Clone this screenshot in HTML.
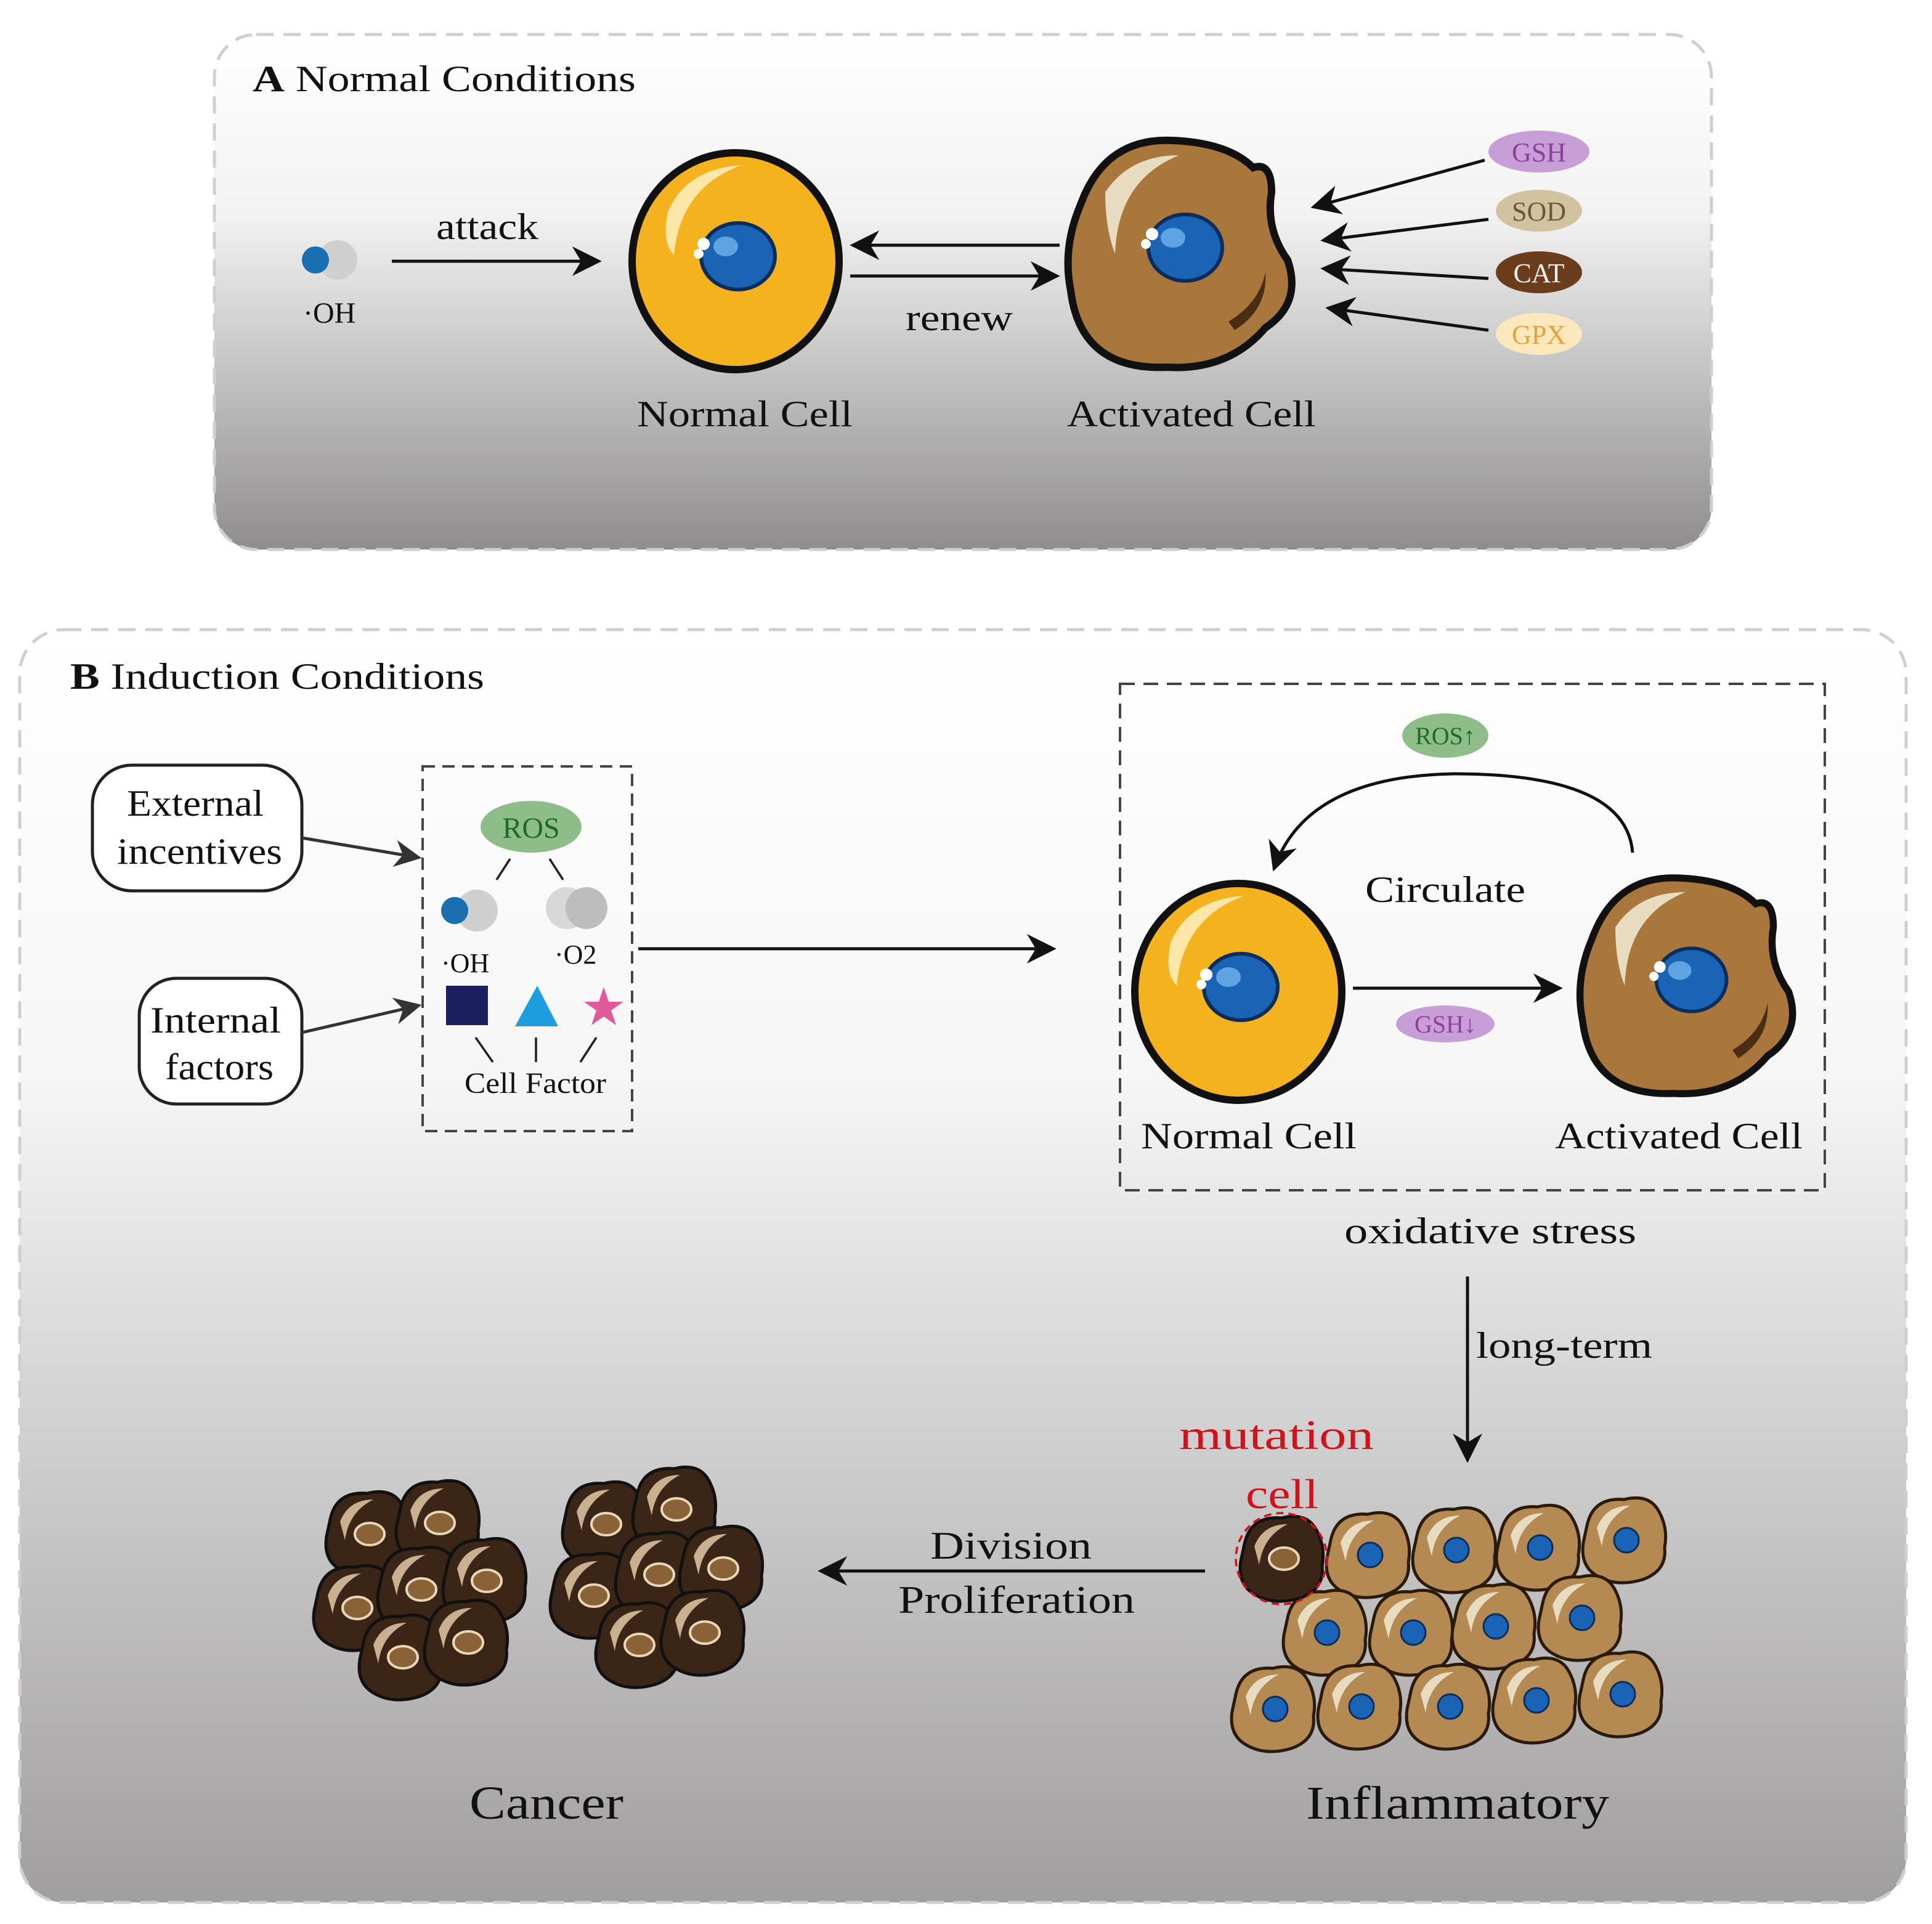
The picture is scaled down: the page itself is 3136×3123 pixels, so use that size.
<!DOCTYPE html>
<html><head><meta charset="utf-8">
<style>
html,body{margin:0;padding:0;background:#fff;}
svg{display:block;}
text{font-family:"Liberation Serif",serif;fill:#111;}
</style></head>
<body>
<svg width="3136" height="3123" viewBox="0 0 1568 1561.5" xmlns="http://www.w3.org/2000/svg">
<defs>
<linearGradient id="gA" x1="0" y1="0" x2="0" y2="1">
<stop offset="0" stop-color="#ffffff"/><stop offset="0.35" stop-color="#f2f2f2"/><stop offset="1" stop-color="#8f8d8e"/>
</linearGradient>
<linearGradient id="gB" x1="0" y1="0" x2="0" y2="1">
<stop offset="0" stop-color="#ffffff"/><stop offset="0.35" stop-color="#f6f6f6"/><stop offset="1" stop-color="#a09e9f"/>
</linearGradient>
<marker id="ar2" viewBox="0 0 10 10" refX="9" refY="5" markerWidth="24" markerHeight="24" orient="auto" markerUnits="userSpaceOnUse">
<path d="M0,0 L10,5 L0,10 L3,5 z" fill="#111"/>
</marker>
<marker id="ar3" viewBox="0 0 10 10" refX="9" refY="5" markerWidth="22" markerHeight="22" orient="auto" markerUnits="userSpaceOnUse">
<path d="M0,0 L10,5 L0,10 L3,5 z" fill="#333"/>
</marker>
<g id="ncell">
<ellipse cx="0" cy="0" rx="84" ry="88" fill="#f5b21f" stroke="#111" stroke-width="6"/>
<path d="M-55,-40 Q-40,-75 5,-78 Q-45,-60 -50,-5 Q-60,-15 -55,-40z" fill="#fde7a8"/>
<ellipse cx="2" cy="-4" rx="30" ry="27" fill="#1b63b4" stroke="#0b2d5c" stroke-width="3"/>
<ellipse cx="-8" cy="-12" rx="10" ry="8" fill="#5fa3e3"/>
<circle cx="-26" cy="-14" r="5" fill="#fff"/><circle cx="-30" cy="-6" r="4" fill="#fff"/>
</g>
<g id="acell">
<path d="M-80,-40 Q-60,-95 -5,-92 Q40,-90 60,-70 Q75,-75 75,-50 Q70,-20 88,5 Q100,40 70,60 Q40,95 -10,92 Q-80,95 -88,30 Q-95,-5 -80,-40z" fill="#a9763c" stroke="#111" stroke-width="6"/>
<path d="M-60,-50 Q-40,-80 0,-80 Q-50,-60 -52,0 Q-60,-20 -60,-50z" fill="#e8dcc0"/>
<path d="M40,55 Q65,40 70,15 Q72,45 45,62z" fill="#4a2e14"/>
<ellipse cx="5" cy="-5" rx="30" ry="27" fill="#1b63b4" stroke="#0b2d5c" stroke-width="3"/>
<ellipse cx="-5" cy="-13" rx="10" ry="8" fill="#5fa3e3"/>
<circle cx="-22" cy="-16" r="5" fill="#fff"/><circle cx="-27" cy="-8" r="4" fill="#fff"/>
</g>
<g id="icell">
<path d="M-30,-12 Q-25,-35 0,-33 Q20,-38 28,-24 Q36,-10 33,6 Q35,25 15,32 Q-5,38 -20,30 Q-36,22 -33,2z" fill="#b58a52" stroke="#2a1a0a" stroke-width="2.5"/>
<path d="M-22,-10 Q-15,-28 5,-28 Q-15,-18 -18,5z" fill="#e8dcc0"/>
<circle cx="2" cy="0" r="10" fill="#1b63b4" stroke="#0b2d5c" stroke-width="1.5"/>
</g>
<g id="ccell">
<path d="M-30,-12 Q-25,-35 0,-33 Q20,-38 28,-24 Q36,-10 33,6 Q35,25 15,32 Q-5,38 -20,30 Q-36,22 -33,2z" fill="#3b2516" stroke="#111" stroke-width="2.5"/>
<path d="M-22,-10 Q-15,-28 5,-28 Q-15,-18 -18,5z" fill="#c8b090"/>
<ellipse cx="2" cy="0" rx="12" ry="9" fill="#8a6238" stroke="#e8d8b8" stroke-width="2"/>
</g>
</defs>

<!-- Panel A -->
<rect x="174" y="28" width="1215" height="418" rx="34" fill="url(#gA)" stroke="#cfcfcf" stroke-width="2.5" stroke-dasharray="14 8"/>
<text x="205" y="74" font-size="30" textLength="311" lengthAdjust="spacingAndGlyphs"><tspan font-weight="bold">A</tspan>  Normal Conditions</text>
<circle cx="274" cy="211" r="16" fill="#cfcfcf"/>
<circle cx="256" cy="211" r="11" fill="#1a6fb0"/>
<text x="246" y="262" font-size="24">·OH</text>
<line x1="318" y1="212" x2="486" y2="212" stroke="#111" stroke-width="2.5" marker-end="url(#ar2)"/>
<text x="354" y="194" font-size="30" textLength="83" lengthAdjust="spacingAndGlyphs">attack</text>
<use href="#ncell" x="597" y="212"/>
<text x="517" y="346" font-size="30" textLength="175" lengthAdjust="spacingAndGlyphs">Normal Cell</text>
<line x1="860" y1="199" x2="692" y2="199" stroke="#111" stroke-width="2.5" marker-end="url(#ar2)"/>
<line x1="690" y1="224" x2="858" y2="224" stroke="#111" stroke-width="2.5" marker-end="url(#ar2)"/>
<text x="735" y="268" font-size="30" textLength="87" lengthAdjust="spacingAndGlyphs">renew</text>
<use href="#acell" x="957" y="206"/>
<text x="866" y="346" font-size="30" textLength="202" lengthAdjust="spacingAndGlyphs">Activated Cell</text>
<line x1="1205" y1="130" x2="1066" y2="168" stroke="#111" stroke-width="2.5" marker-end="url(#ar2)"/>
<line x1="1208" y1="178" x2="1074" y2="195" stroke="#111" stroke-width="2.5" marker-end="url(#ar2)"/>
<line x1="1208" y1="226" x2="1074" y2="218" stroke="#111" stroke-width="2.5" marker-end="url(#ar2)"/>
<line x1="1208" y1="268" x2="1078" y2="250" stroke="#111" stroke-width="2.5" marker-end="url(#ar2)"/>
<ellipse cx="1249" cy="123" rx="41" ry="17" fill="#c79fd6"/><text x="1249" y="131" font-size="22" text-anchor="middle" style="fill:#8e3f9d">GSH</text>
<ellipse cx="1249" cy="171" rx="35" ry="17" fill="#d2c3a0"/><text x="1249" y="179" font-size="22" text-anchor="middle" style="fill:#6b5838">SOD</text>
<ellipse cx="1249" cy="221" rx="35" ry="17" fill="#6a3d1c"/><text x="1249" y="229" font-size="22" text-anchor="middle" style="fill:#eee">CAT</text>
<ellipse cx="1249" cy="271" rx="35" ry="17" fill="#fde8bd"/><text x="1249" y="279" font-size="22" text-anchor="middle" style="fill:#e8a23a">GPX</text>

<!-- Panel B -->
<rect x="16" y="511" width="1531" height="1033" rx="36" fill="url(#gB)" stroke="#cfcfcf" stroke-width="2.5" stroke-dasharray="14 8"/>
<text x="57" y="559" font-size="30" textLength="336" lengthAdjust="spacingAndGlyphs"><tspan font-weight="bold">B</tspan>  Induction Conditions</text>

<rect x="75" y="621" width="170" height="102" rx="32" fill="#fff" stroke="#222" stroke-width="2.5"/>
<text x="103" y="662" font-size="30" textLength="111" lengthAdjust="spacingAndGlyphs">External</text>
<text x="95" y="701" font-size="30" textLength="134" lengthAdjust="spacingAndGlyphs">incentives</text>
<rect x="113" y="794" width="132" height="102" rx="30" fill="#fff" stroke="#222" stroke-width="2.5"/>
<text x="122" y="838" font-size="30" textLength="106" lengthAdjust="spacingAndGlyphs">Internal</text>
<text x="134" y="876" font-size="30" textLength="88" lengthAdjust="spacingAndGlyphs">factors</text>
<line x1="245" y1="680" x2="340" y2="696" stroke="#333" stroke-width="2.5" marker-end="url(#ar3)"/>
<line x1="245" y1="838" x2="340" y2="816" stroke="#333" stroke-width="2.5" marker-end="url(#ar3)"/>

<rect x="343" y="622" width="170" height="296" fill="none" stroke="#444" stroke-width="2" stroke-dasharray="10 6"/>
<ellipse cx="431" cy="671" rx="41" ry="21" fill="#8fbd8a"/><text x="431" y="680" font-size="24" text-anchor="middle" style="fill:#1e6b2e">ROS</text>
<line x1="414" y1="697" x2="403" y2="714" stroke="#222" stroke-width="1.8"/>
<line x1="446" y1="697" x2="457" y2="714" stroke="#222" stroke-width="1.8"/>
<circle cx="387" cy="739" r="17" fill="#cfcfcf"/><circle cx="369" cy="739" r="11" fill="#1a6fb0"/>
<circle cx="460" cy="737" r="17" fill="#d8d8d8"/><circle cx="476" cy="737" r="17" fill="#bdbdbd"/>
<text x="358" y="789" font-size="22">·OH</text>
<text x="450" y="782" font-size="22">·O2</text>
<rect x="362" y="800" width="34" height="32" fill="#1b1f5e"/>
<polygon points="436,800 453,833 418,833" fill="#1e9de0"/>
<polygon points="490,801 494,813 506,813 496,820 500,832 490,825 480,832 484,820 474,813 486,813" fill="#e05a9a"/>
<line x1="386" y1="842" x2="400" y2="862" stroke="#222" stroke-width="1.8"/>
<line x1="435" y1="842" x2="435" y2="862" stroke="#222" stroke-width="1.8"/>
<line x1="484" y1="842" x2="471" y2="862" stroke="#222" stroke-width="1.8"/>
<text x="377" y="887" font-size="24" textLength="115" lengthAdjust="spacingAndGlyphs">Cell Factor</text>

<line x1="518" y1="770" x2="855" y2="770" stroke="#111" stroke-width="2.5" marker-end="url(#ar2)"/>

<rect x="909" y="555" width="572" height="411" fill="none" stroke="#444" stroke-width="2" stroke-dasharray="12 7"/>
<ellipse cx="1173" cy="597" rx="35" ry="18" fill="#8fbd8a"/><text x="1173" y="604" font-size="20" text-anchor="middle" style="fill:#1e6b2e">ROS↑</text>
<path d="M1325,692 Q1320,628 1180,628 Q1060,630 1034,705" fill="none" stroke="#111" stroke-width="2.5" marker-end="url(#ar2)"/>
<text x="1108" y="732" font-size="30" textLength="130" lengthAdjust="spacingAndGlyphs">Circulate</text>
<use href="#ncell" x="1005" y="805"/>
<use href="#acell" x="1368" y="800" transform="translate(1368 800) scale(0.95) translate(-1368 -800)"/>
<line x1="1098" y1="802" x2="1266" y2="802" stroke="#111" stroke-width="2.5" marker-end="url(#ar2)"/>
<ellipse cx="1173" cy="831" rx="40" ry="15" fill="#c79fd6"/><text x="1173" y="838" font-size="20" text-anchor="middle" style="fill:#8e3f9d">GSH↓</text>
<text x="926" y="932" font-size="30" textLength="175" lengthAdjust="spacingAndGlyphs">Normal Cell</text>
<text x="1262" y="932" font-size="30" textLength="201" lengthAdjust="spacingAndGlyphs">Activated Cell</text>
<text x="1091" y="1009" font-size="30" textLength="237" lengthAdjust="spacingAndGlyphs">oxidative stress</text>

<line x1="1191" y1="1036" x2="1191" y2="1185" stroke="#111" stroke-width="2.5" marker-end="url(#ar2)"/>
<text x="1198" y="1102" font-size="30" textLength="143" lengthAdjust="spacingAndGlyphs">long-term</text>
<text x="957" y="1176" font-size="34" textLength="158" lengthAdjust="spacingAndGlyphs" style="fill:#d0121b">mutation</text>
<text x="1011" y="1224" font-size="34" textLength="59" lengthAdjust="spacingAndGlyphs" style="fill:#d0121b">cell</text>

<!-- inflammatory cluster -->
<use href="#icell" x="1110" y="1262"/><use href="#icell" x="1180" y="1258"/><use href="#icell" x="1248" y="1256"/><use href="#icell" x="1318" y="1250"/>
<use href="#icell" x="1075" y="1325"/><use href="#icell" x="1145" y="1325"/><use href="#icell" x="1212" y="1320"/><use href="#icell" x="1282" y="1313"/>
<use href="#icell" x="1033" y="1387"/><use href="#icell" x="1103" y="1385"/><use href="#icell" x="1175" y="1385"/><use href="#icell" x="1245" y="1380"/><use href="#icell" x="1315" y="1375"/>
<use href="#ccell" x="1040" y="1265"/>
<circle cx="1040" cy="1265" r="37" fill="none" stroke="#d0121b" stroke-width="1.8" stroke-dasharray="6 4"/>
<text x="1060" y="1476" font-size="38" textLength="246" lengthAdjust="spacingAndGlyphs">Inflammatory</text>

<line x1="978" y1="1275" x2="666" y2="1275" stroke="#111" stroke-width="2.5" marker-end="url(#ar2)"/>
<text x="755" y="1265" font-size="32" textLength="131" lengthAdjust="spacingAndGlyphs">Division</text>
<text x="729" y="1309" font-size="32" textLength="192" lengthAdjust="spacingAndGlyphs">Proliferation</text>

<!-- cancer clusters -->
<g>
<use href="#ccell" x="298" y="1245"/><use href="#ccell" x="355" y="1236"/>
<use href="#ccell" x="288" y="1305"/><use href="#ccell" x="340" y="1290"/><use href="#ccell" x="393" y="1283"/>
<use href="#ccell" x="325" y="1345"/><use href="#ccell" x="378" y="1333"/>
</g>
<g>
<use href="#ccell" x="490" y="1237"/><use href="#ccell" x="547" y="1225"/>
<use href="#ccell" x="480" y="1295"/><use href="#ccell" x="533" y="1278"/><use href="#ccell" x="585" y="1273"/>
<use href="#ccell" x="517" y="1335"/><use href="#ccell" x="570" y="1325"/>
</g>
<text x="381" y="1476" font-size="38" textLength="125" lengthAdjust="spacingAndGlyphs">Cancer</text>
</svg>
</body></html>
